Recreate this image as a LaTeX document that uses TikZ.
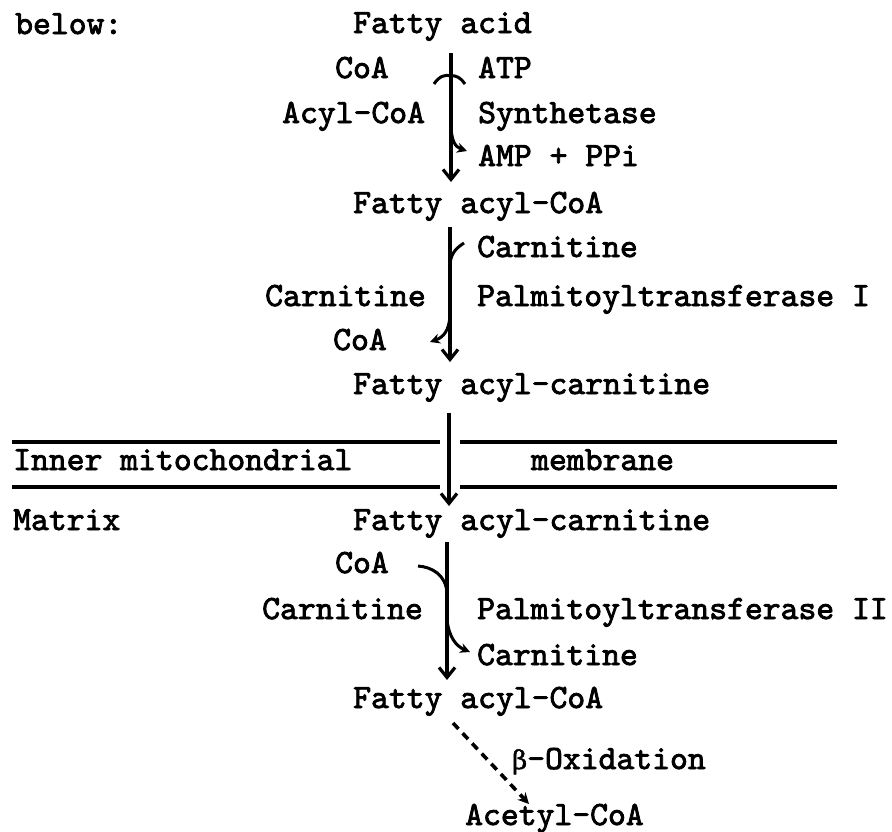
\documentclass[tikz,border=0pt]{standalone}
\usepackage{fontspec}
\usetikzlibrary{arrows.meta}
\newfontfamily\tw{lmmono10-regular.otf}[FakeBold=2.4]
\newfontfamily\gk{DejaVu Serif}[FakeBold=1.5]
\begin{document}
\begin{tikzpicture}[x=1pt,y=-1pt,
  lbl/.style={inner sep=0pt, anchor=base west, font=\tw\fontsize{34}{36}\selectfont},
  flow/.style={line width=3.2pt, -{Straight Barb[length=10pt,width=16pt]}},
  hook/.style={line width=3pt},
  branch/.style={line width=3pt, -{Stealth[length=10pt,width=10pt]}},
  oxid/.style={line width=3.6pt, dash pattern=on 8pt off 6pt, -{Stealth[length=11pt,width=11pt]}},
  mem/.style={line width=3.4pt}]
\useasboundingbox (0,0) rectangle (892,831);

% labels
\node[lbl] (below) at (15,34) {below:};
\node[lbl] (fa) at (353,33) {Fatty acid};
\node[lbl] (coa1) at (335,78) {CoA};
\node[lbl] (atp) at (478,78) {ATP};
\node[lbl] (acylcoa) at (282,123) {Acyl-CoA};
\node[lbl] (synth) at (478,123) {Synthetase};
\node[lbl] (amp) at (478,166) {AMP + PPi};
\node[lbl] (facoa1) at (353,213) {Fatty acyl-CoA};
\node[lbl] (carnr1) at (477,257) {Carnitine};
\node[lbl] (carnl1) at (265,306) {Carnitine};
\node[lbl] (cpt1) at (477,306) {Palmitoyltransferase I};
\node[lbl] (coa2) at (333,350) {CoA};
\node[lbl] (facar1) at (353,394) {Fatty acyl-carnitine};
\node[lbl] (inner) at (13,470) {Inner mitochondrial};
\node[lbl] (membr) at (531,470) {membrane};
\node[lbl] (matrix) at (13,530) {Matrix};
\node[lbl] (facar2) at (353,530) {Fatty acyl-carnitine};
\node[lbl] (coa3) at (335,573) {CoA};
\node[lbl] (carnl2) at (262,619) {Carnitine};
\node[lbl] (cpt2) at (477,619) {Palmitoyltransferase II};
\node[lbl] (carnr2) at (477,665) {Carnitine};
\node[lbl] (facoa2) at (353,708) {Fatty acyl-CoA};
\node[lbl] (box) at (512,769) {{\gk\fontsize{26}{28}\selectfont β}-Oxidation};
\node[lbl] (acetyl) at (465,825) {Acetyl-CoA};

% membrane
\draw[mem] (12,442) -- (440,442);
\draw[mem] (460,442) -- (837,442);
\draw[mem] (12,487) -- (440,487);
\draw[mem] (460,487) -- (837,487);

% step 1: synthetase
\coordinate (a1s) at (451,53);
\coordinate (a1e) at (451,182);
\draw[flow] (a1s) -- (a1e);
\draw[hook] (434,84) .. controls (439,76) and (446,74) .. (451,76)
            .. controls (456,75) and (461,78) .. (465,84);
\draw[branch] (451,124) .. controls (451,140) and (455,147) .. (467,151);

% step 2: CPT I
\coordinate (a2s) at (450,227);
\coordinate (a2e) at (450,362);
\draw[flow] (a2s) -- (a2e);
\draw[hook] (464,243) .. controls (458,247) and (451,252) .. (450,264);
\draw[branch] (450,316) .. controls (449,330) and (444,337) .. (430,342);

% step 3: translocation
\coordinate (a3s) at (449,413);
\coordinate (a3e) at (449,506);
\draw[flow] (a3s) -- (a3e);

% step 4: CPT II
\coordinate (a4s) at (447,542);
\coordinate (a4e) at (447,680);
\draw[flow] (a4s) -- (a4e);
\draw[hook] (418,566) .. controls (432,567) and (446,575) .. (447,593);
\draw[branch] (447,620) .. controls (449,637) and (456,646) .. (470,652);

% beta oxidation
\coordinate (b0) at (453,723);
\coordinate (b1) at (529,804);
\draw[oxid] (b0) -- (b1);
\end{tikzpicture}
\end{document}
